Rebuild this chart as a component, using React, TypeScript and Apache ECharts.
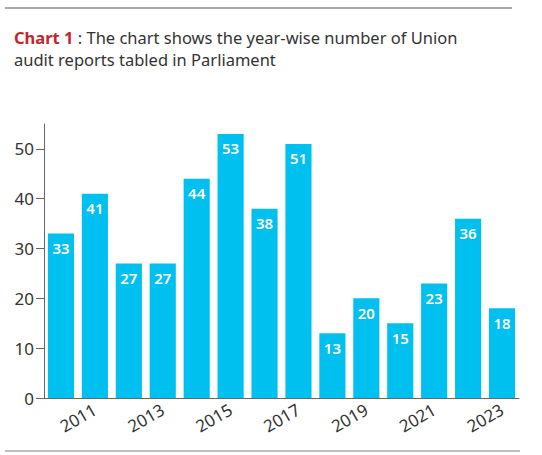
import React, { useEffect, useRef } from "react";
import * as echarts from "echarts";

const years = ["2010","2011","2012","2013","2014","2015","2016","2017","2018","2019","2020","2021","2022","2023"];
const reports = [33, 41, 27, 27, 44, 53, 38, 51, 13, 20, 15, 23, 36, 18];
const titleLead = "Chart 1";
const titleRest1 = " : The chart shows the year-wise number of Union";
const titleLine2 = "audit reports tabled in Parliament";

const FONT = "'Noto Sans', 'Open Sans', sans-serif";

export default function App() {
  const ref = useRef<HTMLDivElement>(null);
  useEffect(() => {
    if (!ref.current) return;
    const chart = echarts.init(ref.current, null, { renderer: "svg" });
    chart.setOption({
      animation: false,
      backgroundColor: "#ffffff",
      textStyle: { fontFamily: FONT },
      grid: { left: 44, right: 23, top: 124, bottom: 57, containLabel: false },
      graphic: [
        { type: "line", shape: { x1: 5, y1: 8, x2: 512, y2: 8 }, style: { stroke: "#aaaaaa", lineWidth: 2 } },
        { type: "line", shape: { x1: 5, y1: 451, x2: 520, y2: 451 }, style: { stroke: "#aaaaaa", lineWidth: 1.5 } },
        {
          type: "text", left: 14, top: 29,
          style: {
            text: "{r|" + titleLead + "}{g|" + titleRest1 + "}\n{g|" + titleLine2 + "}",
            rich: {
              r: { fill: "#c0272d", fontSize: 16.5, fontWeight: "bold", fontFamily: FONT, lineHeight: 22 },
              g: { fill: "#333333", fontSize: 16.5, fontFamily: FONT, lineHeight: 22 },
            },
          },
        },
      ],
      xAxis: {
        type: "category",
        data: years,
        axisLine: { lineStyle: { color: "#666666", width: 1 } },
        axisTick: { alignWithLabel: true, interval: 0, length: 5, lineStyle: { color: "#666666" } },
        axisLabel: {
          interval: (i: number) => i % 2 === 1,
          rotate: 30,
          color: "#333333",
          fontSize: 17,
          fontFamily: FONT,
          margin: 10,
        },
      },
      yAxis: {
        type: "value",
        min: 0,
        max: 55,
        interval: 10,
        axisLine: { show: true, lineStyle: { color: "#666666", width: 1 } },
        axisTick: { show: true, length: 8, lineStyle: { color: "#666666" } },
        splitLine: { show: false },
        axisLabel: { color: "#333333", fontSize: 17, fontFamily: FONT, margin: 10,
          showMaxLabel: false },
      },
      series: [
        {
          type: "bar",
          data: reports,
          barCategoryGap: "23%",
          itemStyle: { color: "#00c0f0" },
          label: {
            show: true,
            position: "insideTop",
            distance: 7,
            color: "#ffffff",
            fontSize: 15,
            fontWeight: 600,
            fontFamily: FONT,
          },
        },
      ],
    });
    return () => chart.dispose();
  }, []);
  return <div ref={ref} style={{ position: "absolute", left: 0, top: 0, width: 542, height: 455 }} />;
}
